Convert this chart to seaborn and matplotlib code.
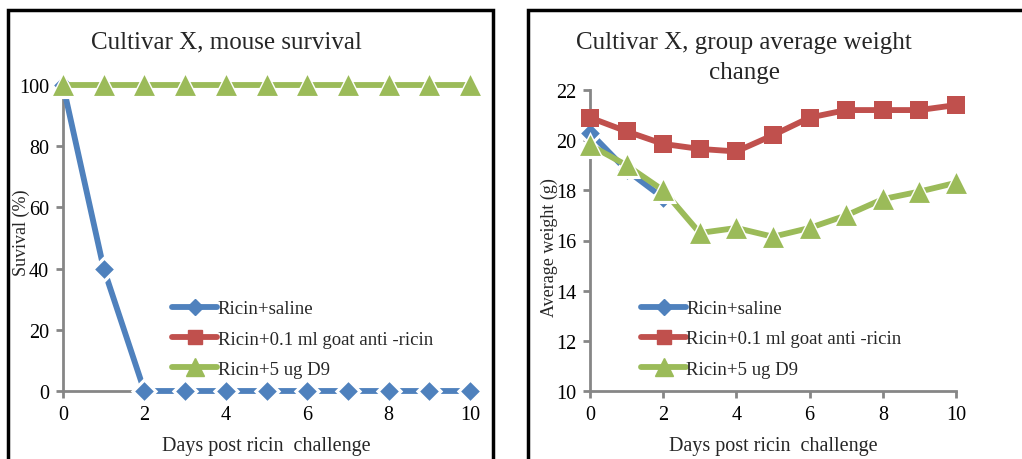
import numpy as np
import pandas as pd
import seaborn as sns
import matplotlib
matplotlib.use("Agg")
import matplotlib.pyplot as plt
from matplotlib.patches import Rectangle
from matplotlib.lines import Line2D

# Days after challenge
days = list(range(11))

# Series names
groups = ["Ricin+saline", "Ricin+0.1 ml goat anti -ricin", "Ricin+5 ug D9"]

# Survival (%)
surv_saline = [100, 40, 0, 0, 0, 0, 0, 0, 0, 0, 0]
surv_goat = [np.nan] * 11
surv_d9 = [100, 100, 100, 100, 100, 100, 100, 100, 100, 100, 100]

# Group average weight (g)
wt_saline = [20.3, 18.8, 17.7] + [np.nan] * 8
wt_goat = [20.9, 20.35, 19.85, 19.65, 19.55, 20.2, 20.9, 21.2, 21.2, 21.2, 21.4]
wt_d9 = [19.8, 19.0, 18.0, 16.3, 16.5, 16.15, 16.5, 17.0, 17.65, 17.95, 18.3]

x_ticks = [0, 2, 4, 6, 8, 10]
surv_ticks = [0, 20, 40, 60, 80, 100]
wt_ticks = [10, 12, 14, 16, 18, 20, 22]

sns.set_theme(style="white")
plt.rcParams["font.family"] = ["Liberation Serif", "DejaVu Serif"]

colors = ["#4f81bd", "#c0504d", "#9bbb59"]
markers = ["D", "s", "^"]
msizes = [9.5, 12.5, 15]       # marker size in points
halo = [True, False, True]     # white gap around markers on these lines

fig = plt.figure(figsize=(10.22, 4.6), dpi=100)

# Panel frames
fig.patches.append(Rectangle((8 / 1022, -0.05), 485 / 1022, 1 - 11 / 460 + 0.05,
                             transform=fig.transFigure, fill=False,
                             edgecolor="black", linewidth=2.5, clip_on=False))
fig.patches.append(Rectangle((528 / 1022, -0.05), 500 / 1022, 1 - 11 / 460 + 0.05,
                             transform=fig.transFigure, fill=False,
                             edgecolor="black", linewidth=2.5, clip_on=False))

ax1 = fig.add_axes([63 / 1022, 68 / 460, 407 / 1022, 306 / 460])
ax2 = fig.add_axes([590 / 1022, 68 / 460, 366 / 1022, 301 / 460])


def draw(ax, series, ylim, yticks, legend_anchor):
    for i, vals in enumerate(series):
        df = pd.DataFrame({"day": days, "val": vals}).dropna()
        if not len(df):
            continue
        z = 3 + 3 * i
        sns.lineplot(data=df, x="day", y="val", ax=ax, color=colors[i],
                     linewidth=4.2, clip_on=False, zorder=z, legend=False)
        if halo[i]:
            sns.scatterplot(data=df, x="day", y="val", ax=ax, color="white",
                            marker=markers[i], s=(msizes[i] + 4.5) ** 2,
                            linewidth=0, clip_on=False, zorder=z + 1, legend=False)
        sns.scatterplot(data=df, x="day", y="val", ax=ax, color=colors[i],
                        marker=markers[i], s=msizes[i] ** 2,
                        linewidth=0, clip_on=False, zorder=z + 2, legend=False)
    ax.set_xlim(0, 10)
    ax.set_ylim(*ylim)
    ax.set_xticks(x_ticks)
    ax.set_yticks(yticks)
    for side in ["top", "right"]:
        ax.spines[side].set_visible(False)
    for side in ["left", "bottom"]:
        ax.spines[side].set_color("#868686")
        ax.spines[side].set_linewidth(2)
    ax.tick_params(axis="both", direction="out", length=5, width=2, color="#868686",
                   labelsize=14.5, labelcolor="black", pad=5,
                   left=True, bottom=True)
    ax.set_xlabel("Days post ricin  challenge", fontsize=14.5, labelpad=9)
    handles = [Line2D([0], [0], color=colors[i], marker=markers[i],
                      markersize=msizes[i] * 0.85, linewidth=4.2,
                      markeredgecolor=colors[i]) for i in range(3)]
    ax.legend(handles, groups, frameon=False, fontsize=13.5, handlelength=2.4,
              handletextpad=0.02, labelspacing=0.7, loc="center left",
              bbox_to_anchor=legend_anchor, borderaxespad=0)


draw(ax1, [surv_saline, surv_goat, surv_d9], (0, 100), surv_ticks, (0.25, 0.17))
draw(ax2, [wt_saline, wt_goat, wt_d9], (10, 22), wt_ticks, (0.119, 0.173))

ax1.set_ylabel("Suvival (%)", fontsize=13, labelpad=0)
ax1.yaxis.set_label_coords(-0.08, 0.52)
ax2.set_ylabel("Average weight (g)", fontsize=13, labelpad=0)
ax2.yaxis.set_label_coords(-0.088, 0.48)

fig.text(226 / 1022, 1 - 42 / 460, "Cultivar X, mouse survival", fontsize=18,
         ha="center", va="center")
fig.text(744 / 1022, 1 - 58 / 460, "Cultivar X, group average weight\nchange",
         fontsize=18, ha="center", va="center", linespacing=1.45)

fig.savefig("out.png", dpi=100)
